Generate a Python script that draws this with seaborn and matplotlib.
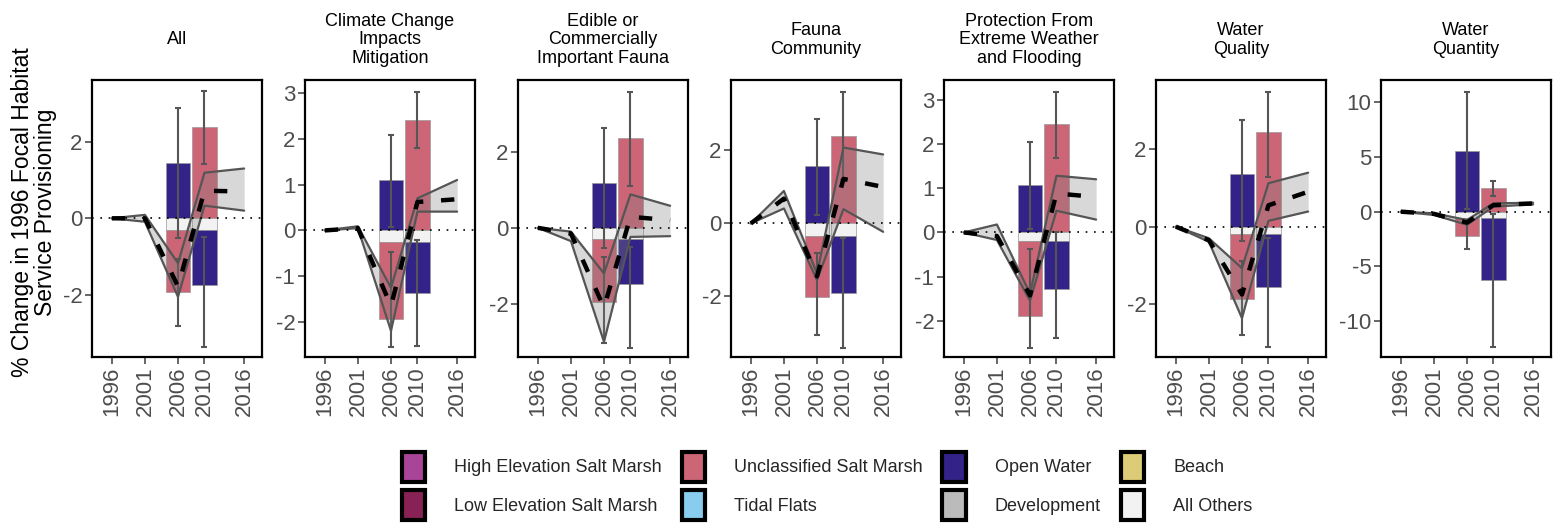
import matplotlib
matplotlib.use("Agg")
import matplotlib.pyplot as plt
from matplotlib.patches import Patch
import numpy as np
import pandas as pd
import seaborn as sns

# ---- data ----
panels = ["All", "Climate Change\nImpacts\nMitigation", "Edible or\nCommercially\nImportant Fauna",
          "Fauna\nCommunity", "Protection From\nExtreme Weather\nand Flooding", "Water\nQuality",
          "Water\nQuantity"]
years = [1996, 2001, 2006, 2010, 2016]
tick_years = [1996, 2001, 2006, 2010, 2016]
bar_years = [2006, 2010]

# stacked bars: positive part, "All Others" (negative), remaining negative part
pos_2006 = [1.45, 1.10, 1.18, 1.58, 1.07, 1.35, 5.58]      # Open Water
pos_2010 = [2.39, 2.41, 2.37, 2.40, 2.44, 2.43, 2.14]      # Unclassified Salt Marsh
others = [-0.30, -0.25, -0.30, -0.34, -0.19, -0.19, -0.61]  # All Others
neg_2006 = [-1.63, -1.69, -1.66, -1.67, -1.70, -1.68, -1.59]  # Unclassified Salt Marsh
neg_2010 = [-1.45, -1.11, -1.18, -1.56, -1.08, -1.36, -5.64]  # Open Water

# error bars (low, high) for each bar part
err_pos_2006 = [(-0.52, 2.87), (0.07, 2.07), (-0.54, 2.62), (0.23, 2.85), (0.07, 2.05), (-0.37, 2.75), (0.2, 10.98)]
err_neg_2006 = [(-2.81, -1.05), (-2.55, -0.46), (-3.04, -0.76), (-3.06, -0.82), (-2.60, -0.38), (-2.79, -0.88), (-3.41, -1.0)]
err_pos_2010 = [(1.42, 3.32), (1.79, 3.01), (1.10, 3.58), (1.20, 3.60), (1.68, 3.17), (1.27, 3.48), (1.44, 2.84)]
err_neg_2010 = [(-3.37, -0.50), (-2.52, -0.20), (-3.15, -0.50), (-3.40, -0.40), (-2.39, 0.00), (-3.09, -0.30), (-12.4, -0.2)]

# ribbon (upper / lower) and mean line per panel, at `years`
upper = [[0, 0.09, -1.17, 1.19, 1.30],
         [0, 0.09, -1.25, 0.70, 1.10],
         [0, -0.10, -1.20, 0.88, 0.58],
         [0, 0.89, -1.37, 2.08, 1.89],
         [0, 0.18, -1.38, 1.28, 1.20],
         [0, -0.30, -1.07, 1.12, 1.39],
         [0, -0.15, -0.76, 0.76, 0.82]]
lower = [[0, -0.09, -2.05, 0.33, 0.20],
         [0, 0.05, -2.19, 0.41, 0.41],
         [0, -0.35, -3.00, -0.24, -0.22],
         [0, 0.41, -1.55, 0.39, -0.23],
         [0, -0.17, -1.54, 0.49, 0.29],
         [0, -0.39, -2.36, 0.15, 0.39],
         [0, -0.30, -1.20, 0.46, 0.67]]
mean = [[0, 0.00, -1.78, 0.72, 0.70],
        [0, 0.05, -1.65, 0.62, 0.68],
        [0, -0.15, -2.10, 0.29, 0.20],
        [0, 0.68, -1.45, 1.22, 1.00],
        [0, -0.08, -1.42, 0.88, 0.80],
        [0, -0.35, -1.75, 0.55, 0.90],
        [0, -0.20, -1.00, 0.60, 0.75]]

ylims = [(-3.62, 3.61), (-2.76, 3.28), (-3.40, 3.89), (-3.66, 3.93), (-2.81, 3.44), (-3.36, 3.78), (-13.3, 12.05)]
yticks = [[-2, 0, 2], [-2, -1, 0, 1, 2, 3], [-2, 0, 2], [-2, 0, 2], [-2, -1, 0, 1, 2, 3], [-2, 0, 2],
          [-10, -5, 0, 5, 10]]

legend_labels = ["High Elevation Salt Marsh", "Low Elevation Salt Marsh", "Unclassified Salt Marsh",
                 "Tidal Flats", "Open Water", "Development", "Beach", "All Others"]
legend_colors = ["#AA4499", "#882255", "#CC6677", "#88CCEE", "#332288", "#BBBBBB", "#DDCC77", "#F2F2F2"]
col = dict(zip(legend_labels, legend_colors))

# ---- style ----
sns.set_theme(style="ticks")
plt.rcParams["font.family"] = ["Liberation Sans", "DejaVu Sans"]
plt.rcParams["axes.edgecolor"] = "black"
plt.rcParams["axes.linewidth"] = 1.6

W, H = 1562, 523
fig = plt.figure(figsize=(W / 100, H / 100), dpi=100)
lefts = [92, 305, 518, 731, 944, 1156, 1381]
ax_w, top, bottom = 170, 80, 357

tick_col = "#4D4D4D"
line_col = "#555555"

for i, title in enumerate(panels):
    ax = fig.add_axes([lefts[i] / W, (H - bottom) / H, ax_w / W, (bottom - top) / H])

    # stacked bars
    bw = 3.7
    ax.bar(2006, pos_2006[i], width=bw, color=col["Open Water"], edgecolor="#999999", lw=0.5, zorder=1)
    ax.bar(2006, others[i], width=bw, color=col["All Others"], edgecolor="#999999", lw=0.5, zorder=1)
    ax.bar(2006, neg_2006[i], bottom=others[i], width=bw, color=col["Unclassified Salt Marsh"],
           edgecolor="#999999", lw=0.5, zorder=1)
    ax.bar(2010, pos_2010[i], width=bw, color=col["Unclassified Salt Marsh"], edgecolor="#999999", lw=0.5, zorder=1)
    ax.bar(2010, others[i], width=bw, color=col["All Others"], edgecolor="#999999", lw=0.5, zorder=1)
    ax.bar(2010, neg_2010[i], bottom=others[i], width=bw, color=col["Open Water"],
           edgecolor="#999999", lw=0.5, zorder=1)

    # error bars
    for x, (lo, hi) in [(2006, err_pos_2006[i]), (2006, err_neg_2006[i]),
                        (2010, err_pos_2010[i]), (2010, err_neg_2010[i])]:
        mid = (lo + hi) / 2
        ax.errorbar(x, mid, yerr=[[mid - lo], [hi - mid]], fmt="none", ecolor=line_col,
                    elinewidth=1.5, capsize=2, capthick=1.5, zorder=2)

    # ribbon
    ax.fill_between(years, lower[i], upper[i], color="#808080", alpha=0.3, lw=0, zorder=3)
    ax.plot(years, upper[i], color=line_col, lw=1.6, zorder=4)
    ax.plot(years, lower[i], color=line_col, lw=1.6, zorder=4)

    # mean line
    df = pd.DataFrame({"year": years, "value": mean[i]})
    sns.lineplot(data=df, x="year", y="value", ax=ax, color="black", lw=3.2,
                 linestyle=(0, (3, 4)), zorder=5)

    ax.axhline(0, color="black", lw=1.2, linestyle=(0, (1, 4)), zorder=6)

    ax.set_xlim(1993, 2018.7)
    ax.set_ylim(*ylims[i])
    ax.set_xticks(tick_years)
    ax.set_xticklabels([str(y) for y in tick_years], rotation=90)
    ax.set_yticks(yticks[i])
    ax.set_yticklabels([str(t) for t in yticks[i]])
    ax.tick_params(axis="both", labelsize=16, colors=tick_col, length=5, width=1.2, pad=2)
    ax.tick_params(axis="both", labelcolor=tick_col)
    ax.set_xlabel("")
    ax.set_ylabel("")
    for s in ax.spines.values():
        s.set_visible(True)
        s.set_color("black")

    fig.text((lefts[i] + ax_w / 2) / W, 1 - 40 / H, title, ha="center", va="center",
             fontsize=13, linespacing=1.15, color="black")

fig.text(34 / W, (H - (top + bottom) / 2 + 6) / H,
         "% Change in 1996 Focal Habitat\nService Provisioning",
         rotation=90, ha="center", va="center", fontsize=16.5, linespacing=1.0, color="black")

handles = [Patch(facecolor=c, edgecolor="black", lw=3) for c in legend_colors]
fig.legend(handles, legend_labels, ncol=4, loc="center", bbox_to_anchor=(827 / W, 37 / H),
           frameon=False, fontsize=13, handlelength=1.3, handleheight=2.2,
           columnspacing=1.1, handletextpad=1.6, labelspacing=0.45)

fig.savefig("out.png", dpi=100)
